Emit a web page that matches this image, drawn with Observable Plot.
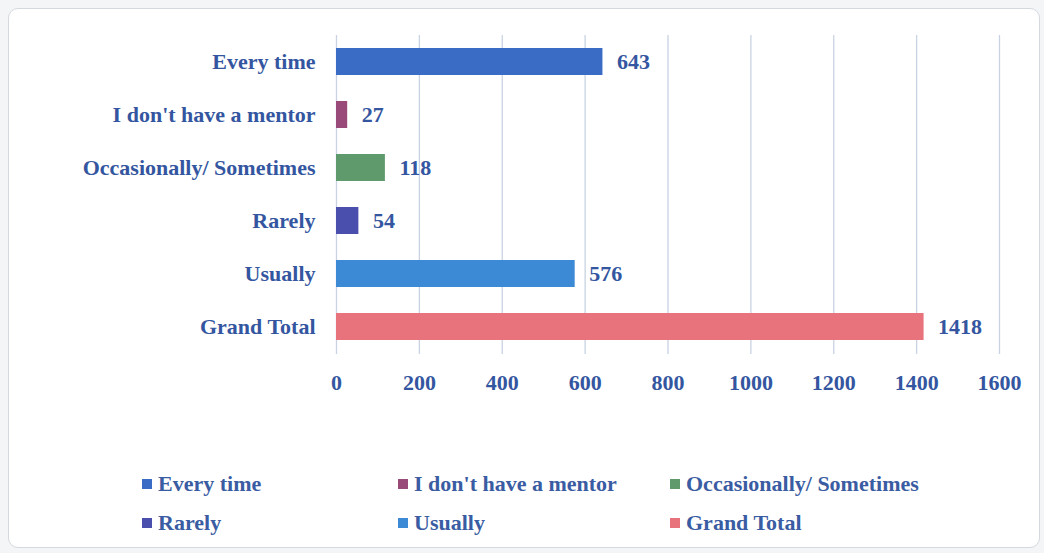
<!DOCTYPE html>
<html>
<head>
<meta charset="utf-8">
<script src="https://cdn.jsdelivr.net/npm/d3@7"></script>
<script src="https://cdn.jsdelivr.net/npm/@observablehq/plot@0.6"></script>
<style>
  html, body { margin: 0; padding: 0; background: #f4f5f7; }
  #frame { position: absolute; left: 8px; top: 8px; width: 1030px; height: 538px; background: #fff;
           border: 1.5px solid #d5d8de; border-radius: 10px; }
  #chart { position: absolute; left: 0; top: 0; }
  .leg { position: absolute; font-family: "Liberation Serif", serif; font-weight: bold; font-size: 22px; color: #3a5ca2; white-space: nowrap; line-height: 24px; }
  .leg span.sw { display: inline-block; width: 10px; height: 10px; margin-right: 6px; vertical-align: 2px; }
</style>
</head>
<body>
<div id="frame"></div>
<div id="chart"></div>
<div id="legend"></div>
<script>
const categories = ["Every time", "I don't have a mentor", "Occasionally/ Sometimes", "Rarely", "Usually", "Grand Total"];
const values = [643, 27, 118, 54, 576, 1418];
const colors = ["#3a6cc6", "#9a4a78", "#5e9a6c", "#4a4fae", "#3c8ad6", "#e9737c"];
const xTicks = [0, 200, 400, 600, 800, 1000, 1200, 1400, 1600];

const data = categories.map((c, i) => ({category: c, value: values[i]}));
const textColor = "#3456a0";

const chart = Plot.plot({
  width: 1044,
  height: 430,
  marginLeft: 336,
  marginRight: 45,
  marginTop: 35,
  marginBottom: 76,
  style: {fontFamily: "Liberation Serif, serif", fontSize: "22px", fontWeight: "bold", color: textColor, background: "transparent"},
  x: {domain: [0, 1600], ticks: xTicks, tickFormat: d3.format("d"), label: null, tickSize: 0, tickPadding: 20, grid: false},
  y: {domain: categories, label: null, tickSize: 0, tickPadding: 21, paddingInner: 0.49, paddingOuter: 0.245},
  color: {domain: categories, range: colors},
  marks: [
    Plot.ruleX(xTicks, {stroke: "#c9d3e3", strokeWidth: 1.3}),
    Plot.barX(data, {y: "category", x: "value", fill: "category"}),
    Plot.text(data, {y: "category", x: "value", text: d => String(d.value), textAnchor: "start", dx: 14, fill: textColor, fontWeight: "bold", fontSize: 22})
  ]
});
document.getElementById("chart").appendChild(chart);

const legPos = [[142, 472], [398, 472], [670, 472], [142, 511], [398, 511], [670, 511]];
const legend = document.getElementById("legend");
categories.forEach((c, i) => {
  const d = document.createElement("div");
  d.className = "leg";
  d.style.left = legPos[i][0] + "px";
  d.style.top = legPos[i][1] + "px";
  const sw = document.createElement("span");
  sw.className = "sw";
  sw.style.background = colors[i];
  d.appendChild(sw);
  d.appendChild(document.createTextNode(c));
  legend.appendChild(d);
});
</script>
</body>
</html>
